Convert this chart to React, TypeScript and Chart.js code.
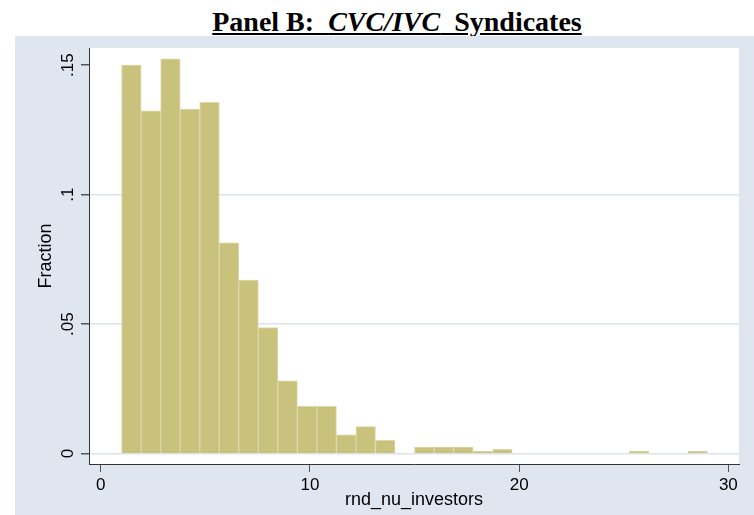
import React, { useEffect, useRef } from 'react';
import { Chart, registerables } from 'chart.js';

Chart.register(...registerables);

// Histogram bins: 30 bins of equal width covering 1 .. 29
const binStart = 1;
const binEnd = 29;
const binCount = 30;
const fractions = [
  0.1500, 0.1323, 0.1524, 0.1330, 0.1356, 0.0814, 0.0670, 0.0487, 0.0281, 0.0183,
  0.0183, 0.0073, 0.0104, 0.0051, 0.0, 0.0025, 0.0025, 0.0025, 0.0010, 0.0017,
  0.0, 0.0, 0.0, 0.0, 0.0, 0.0, 0.0010, 0.0, 0.0, 0.0010,
];
const xTicks = [0, 10, 20, 30];
const yTicks = [0, 0.05, 0.1, 0.15];
const yTickLabels = ['0', '.05', '.1', '.15'];
const xTitle = 'rnd_nu_investors';
const yTitle = 'Fraction';

const SANS = '"Liberation Sans", Arial, Helvetica, sans-serif';
const PANEL_BG = '#E0E6F0';
const GRID = '#DCE2EE';

export default function App() {
  const ref = useRef<HTMLCanvasElement>(null);

  useEffect(() => {
    const canvas = ref.current;
    if (!canvas) return;
    const binWidth = (binEnd - binStart) / binCount;
    const data = fractions.map((v, i) => ({ x: binStart + (i + 0.5) * binWidth, y: v }));

    const bgPlugin = {
      id: 'plotBg',
      beforeDraw(chart: any) {
        const { ctx, chartArea: a } = chart;
        ctx.save();
        ctx.fillStyle = '#ffffff';
        ctx.fillRect(a.left, a.top, a.right - a.left, a.bottom - a.top);
        ctx.restore();
      },
    };

    const yLabelPlugin = {
      id: 'yLabels',
      afterDraw(chart: any) {
        const { ctx, chartArea: a, scales } = chart;
        const ys = scales.y;
        ctx.save();
        ctx.font = `17px ${SANS}`;
        ctx.fillStyle = '#000';
        ctx.textAlign = 'center';
        ctx.textBaseline = 'middle';
        yTicks.forEach((v, i) => {
          const py = ys.getPixelForValue(v);
          ctx.save();
          ctx.translate(a.left - 21, py);
          ctx.rotate(-Math.PI / 2);
          ctx.fillText(yTickLabels[i], 0, 0);
          ctx.restore();
        });
        ctx.restore();
      },
    };

    const chart = new Chart(canvas, {
      type: 'bar',
      data: {
        datasets: [
          {
            data,
            backgroundColor: '#C9C27D',
            borderColor: '#DCD8A8',
            borderWidth: 1,
            barPercentage: 1,
            categoryPercentage: 1,
          } as any,
        ],
      },
      options: {
        animation: false,
        responsive: false,
        events: [],
        layout: { padding: { top: 12, right: 15, left: 0, bottom: 0 } },
        plugins: {
          legend: { display: false },
          tooltip: { enabled: false },
          title: { display: false },
        },
        scales: {
          x: {
            type: 'linear',
            offset: false,
            min: -0.56,
            max: 30.51,
            afterBuildTicks: (s: any) => {
              s.ticks = xTicks.map((v) => ({ value: v }));
            },
            afterFit: (s: any) => {
              s.height = 51;
            },
            ticks: {
              color: '#000',
              font: { family: SANS, size: 17 },
              padding: 3,
              maxRotation: 0,
              callback: (v: any) => String(v),
            },
            grid: {
              offset: false,
              drawOnChartArea: false,
              drawTicks: true,
              tickLength: 8,
              tickColor: '#555',
            },
            border: { display: true, color: '#333', width: 1 },
            title: {
              display: true,
              text: xTitle,
              color: '#000',
              font: { family: SANS, size: 18 },
              padding: { top: 0, bottom: 4 },
            },
          },
          y: {
            type: 'linear',
            min: -0.004,
            max: 0.1566,
            afterBuildTicks: (s: any) => {
              s.ticks = yTicks.map((v) => ({ value: v }));
            },
            afterFit: (s: any) => {
              s.width = 74;
            },
            ticks: { display: false },
            grid: {
              drawOnChartArea: true,
              drawTicks: true,
              tickLength: 8,
              tickColor: '#555',
              lineWidth: 1.5,
              color: (c: any) => (c.tick && c.tick.value === 0.15 ? 'rgba(0,0,0,0)' : GRID),
            },
            border: { display: true, color: '#333', width: 1 },
            title: {
              display: true,
              text: yTitle,
              color: '#000',
              font: { family: SANS, size: 18 },
              padding: { top: 20, bottom: 0 },
            },
          },
        },
      },
      plugins: [bgPlugin, yLabelPlugin],
    } as any);

    return () => chart.destroy();
  }, []);

  return (
    <div style={{ position: 'absolute', left: 0, top: 0, width: 754, height: 515, background: '#fff', overflow: 'hidden' }}>
      <div
        style={{
          position: 'absolute',
          left: 0,
          top: 8,
          width: 794,
          textAlign: 'center',
          fontFamily: '"Liberation Serif", "Times New Roman", serif',
          fontWeight: 'bold',
          fontSize: 28,
          lineHeight: '28px',
          whiteSpace: 'pre',
          color: '#000',
        }}
      >
        <span style={{ textDecoration: 'underline' }}>
          Panel B:  <i>CVC/IVC</i>  Syndicates
        </span>
      </div>
      <div style={{ position: 'absolute', left: 15, top: 36, width: 739, height: 479, background: PANEL_BG }}>
        <canvas ref={ref} width={739} height={479} style={{ display: 'block' }} />
      </div>
    </div>
  );
}
